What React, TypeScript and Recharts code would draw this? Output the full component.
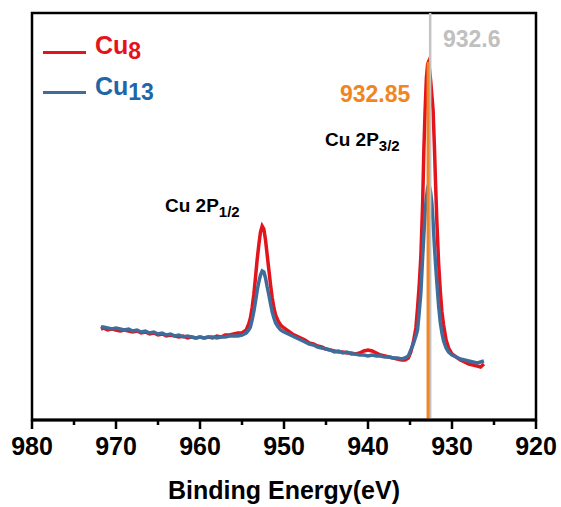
import React from 'react';
import { LineChart, Line, XAxis, YAxis, ReferenceLine, ReferenceArea } from 'recharts';

// binding energy (eV), shared by both spectra
const energies = [
  971.8, 971.5, 971.0, 970.5, 970.0, 969.5, 969.0, 968.5, 968.0, 967.5,
  967.0, 966.5, 966.0, 965.5, 965.0, 964.5, 964.0, 963.5, 963.0, 962.5,
  962.0, 961.5, 961.0, 960.5, 960.0, 959.5, 959.0, 958.5, 958.0, 957.5,
  957.0, 956.5, 956.0, 955.5, 955.0, 954.5, 954.2, 954.0, 953.8, 953.6,
  953.4, 953.2, 953.0, 952.8, 952.6, 952.4, 952.2, 952.0, 951.8, 951.6,
  951.4, 951.2, 951.0, 950.7, 950.4, 950.0, 949.5, 949.0, 948.5, 948.0,
  947.5, 947.0, 946.5, 946.0, 945.5, 945.0, 944.5, 944.0, 943.5, 943.0,
  942.5, 942.0, 941.5, 941.0, 940.5, 940.0, 939.5, 939.0, 938.5, 938.0,
  937.5, 937.0, 936.5, 936.0, 935.6, 935.2, 934.9, 934.6, 934.3, 934.1,
  933.9, 933.7, 933.5, 933.35, 933.2, 933.05, 932.9, 932.8, 932.7, 932.55,
  932.4, 932.25, 932.1, 931.95, 931.8, 931.6, 931.4, 931.2, 931.0, 930.7,
  930.4, 930.0, 929.5, 929.0, 928.5, 928.0, 927.5, 927.0, 926.6, 926.2,
];

// intensity (a.u.)
const cu8 = [
  91, 92, 90, 91, 90, 89, 90, 89, 88, 89,
  87, 88, 86, 87, 85, 86, 84, 85, 84, 83,
  84, 82, 83, 82, 83, 82, 83, 82, 84, 83,
  85, 85, 86, 87, 87, 90, 96, 102, 112, 125,
  142, 160, 175, 188, 194, 191, 180, 165, 150, 135,
  122, 112, 105, 99, 95, 92, 89, 86, 84, 82,
  80, 77, 76, 74, 73, 71, 70, 69, 68, 68,
  67, 67, 66, 67, 69, 70, 69, 67, 65, 64,
  63, 62, 61, 60, 60, 62, 68, 78, 92, 112,
  135, 165, 215, 270, 310, 342, 356, 358, 352, 340,
  325, 310, 275, 235, 198, 158, 130, 108, 95, 80,
  72, 66, 63, 60, 58, 56, 55, 54, 53, 56,
];

const cu13 = [
  93, 93, 92, 91, 92, 91, 90, 91, 89, 90,
  88, 89, 87, 88, 86, 87, 85, 86, 84, 85,
  83, 84, 83, 82, 83, 82, 83, 83, 82, 83,
  83, 84, 84, 84, 85, 87, 90, 93, 100, 108,
  118, 129, 138, 145, 149, 148, 142, 133, 125, 116,
  108, 102, 97, 93, 90, 88, 86, 84, 82, 80,
  78, 76, 75, 73, 72, 71, 70, 68, 69, 67,
  68, 66, 66, 65, 65, 64, 65, 64, 64, 63,
  63, 62, 62, 61, 62, 64, 70, 76, 84, 90,
  108, 128, 162, 185, 208, 222, 232, 235, 234, 228,
  217, 198, 175, 155, 137, 115, 98, 87, 79, 72,
  68, 65, 63, 61, 60, 59, 58, 57, 58, 59,
];

const xTicks = [980, 975, 970, 965, 960, 955, 950, 945, 940, 935, 930, 925, 920];

const data = energies.map((be, i) => ({ be, cu8: cu8[i], cu13: cu13[i] }));

const font = '"Liberation Sans", Arial, sans-serif';

const Tick = (props: any) => {
  const { x, y, payload } = props;
  const v = payload.value;
  const major = v % 10 === 0;
  return (
    <g>
      <line x1={x} x2={x} y1={y} y2={y + (major ? 9 : 5)} stroke="#000" strokeWidth={2.5} />
      {major && (
        <text x={x} y={y + 35} textAnchor="middle" fontSize={25} fontWeight="bold" fill="#000" fontFamily={font}>
          {v}
        </text>
      )}
    </g>
  );
};

const abs = (left: number, top: number, extra: React.CSSProperties = {}): React.CSSProperties => ({
  position: 'absolute',
  left,
  top,
  lineHeight: 1,
  whiteSpace: 'nowrap',
  fontWeight: 'bold',
  fontFamily: font,
  ...extra,
});

export default function App() {
  return (
    <div style={{ position: 'absolute', left: 0, top: 0, width: 561, height: 507, background: '#fff', fontFamily: font }}>
      <LineChart width={561} height={507} data={data} margin={{ top: 13, right: 25, bottom: 0, left: 32 }}>
        <XAxis
          dataKey="be"
          type="number"
          domain={[920, 980]}
          reversed
          ticks={xTicks}
          interval={0}
          height={87}
          tickSize={0}
          tickMargin={0}
          tickLine={false}
          tick={<Tick />}
          axisLine={{ stroke: '#000', strokeWidth: 3 }}
          label={{ value: 'Binding Energy(eV)', position: 'insideBottom', offset: 8, fontSize: 25, fontWeight: 'bold', fill: '#000' }}
        />
        <YAxis domain={[0, 407]} width={0} hide />
        <ReferenceArea x1={920} x2={980} y1={0} y2={407} fill="none" stroke="#000" strokeWidth={2.5} />
        <Line type="linear" dataKey="cu8" stroke="#e3141b" strokeWidth={3.5} dot={false} isAnimationActive={false} />
        <Line type="linear" dataKey="cu13" stroke="#3e6d9c" strokeWidth={3.5} dot={false} isAnimationActive={false} />
        <ReferenceLine x={932.6} stroke="#c3c3c3" strokeWidth={2.5} />
        <ReferenceLine segment={[{ x: 932.85, y: 0 }, { x: 932.85, y: 358 }]} stroke="#f08522" strokeWidth={3} />
      </LineChart>

      {/* legend */}
      <div style={{ position: 'absolute', left: 43, top: 51, width: 43, height: 3, background: '#e3141b' }} />
      <div style={abs(95, 33, { fontSize: 25, color: '#e3141b' })}>
        Cu<span style={{ fontSize: 23, position: 'relative', top: 5 }}>8</span>
      </div>
      <div style={{ position: 'absolute', left: 43, top: 91, width: 43, height: 3, background: '#3e6d9c' }} />
      <div style={abs(95, 74, { fontSize: 25, color: '#1f66a8' })}>
        Cu<span style={{ fontSize: 23, position: 'relative', top: 5 }}>13</span>
      </div>

      {/* annotations */}
      <div style={abs(443, 28, { fontSize: 23, color: '#c0c0c0' })}>932.6</div>
      <div style={abs(340, 83, { fontSize: 23, color: '#f08522' })}>932.85</div>
      <div style={abs(325, 130, { fontSize: 19, color: '#000' })}>
        Cu 2P<span style={{ fontSize: 15, position: 'relative', top: 5 }}>3/2</span>
      </div>
      <div style={abs(165, 196, { fontSize: 19, color: '#000' })}>
        Cu 2P<span style={{ fontSize: 15, position: 'relative', top: 5 }}>1/2</span>
      </div>
    </div>
  );
}
